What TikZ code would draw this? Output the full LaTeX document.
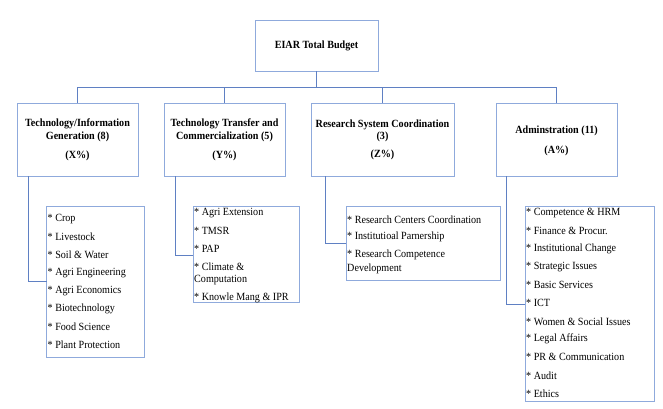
\documentclass[tikz,border=0pt]{standalone}
\usepackage{fontspec}
\setmainfont[FakeStretch=0.92]{Liberation Serif}
\definecolor{boxc}{RGB}{143,170,220}
\definecolor{linec}{RGB}{95,128,195}
\tikzset{
  head/.style={draw=boxc, line width=0.9pt, font=\fontsize{11}{12.7}\selectfont\bfseries, align=center, inner sep=0pt},
  htext/.style={font=\fontsize{11}{12.7}\selectfont\bfseries, align=center, inner sep=0pt},
  listbox/.style={draw=boxc, line width=0.9pt},
  item/.style={anchor=west, font=\fontsize{11}{13}\selectfont, inner sep=0pt},
  conn/.style={draw=linec, line width=0.9pt}
}
\begin{document}
\begin{tikzpicture}[x=1pt,y=-1pt]
\useasboundingbox (0,0) rectangle (663,409);
% top
\node[head, minimum width=123pt, minimum height=51pt] (top) at (316.5,45.5) {EIAR Total Budget};
% level 1 boxes
\node[head, minimum width=121pt, minimum height=73pt] (b1) at (77.5,139.5) {};
\node[head, minimum width=121pt, minimum height=73pt] (b2) at (224.5,139.5) {};
\node[head, minimum width=143pt, minimum height=73pt] (b3) at (382.5,139.5) {};
\node[head, minimum width=121pt, minimum height=73pt] (b4) at (556.5,139.5) {};
\node[htext] (t1) at (77.5,130.5) {Technology/Information\\Generation (8)};
\node[htext] (p1) at (77.5,155.7) {(X\%)};
\node[htext] (t2) at (224.5,130.5) {Technology Transfer and\\Commercialization (5)};
\node[htext] (p2) at (224.5,155.7) {(Y\%)};
\node[htext] (t3) at (382.5,130.8) {Research System Coordination\\(3)};
\node[htext] (p3) at (382.5,155) {(Z\%)};
\node[htext] (t4) at (556.5,131) {Adminstration (11)};
\node[htext] (p4) at (556.5,150.7) {(A\%)};
% connectors top
\coordinate (bar) at (316.5,87);
\draw[conn] (top.south) -- (bar);
\draw[conn] (b1.north) |- (b4.north |- bar) -- (b4.north);
\draw[conn] (b2.north) -- (b2.north |- bar);
\draw[conn] (b3.north) -- (b3.north |- bar);
% list boxes
\draw[listbox] (46.7,206.7) rectangle (144,357);
\coordinate (l1) at (46.7,281.7);
\draw[listbox] (193,206.7) rectangle (299,302.7);
\coordinate (l2) at (193,255);
\draw[listbox] (346,206) rectangle (500,280.7);
\coordinate (l3) at (346,243.5);
\draw[listbox] (525,206) rectangle (654.3,401);
\coordinate (l4) at (525,304.3);
\coordinate (d1) at (28.3,176);
\coordinate (d2) at (175.7,176);
\coordinate (d3) at (325,176);
\coordinate (d4) at (506.7,176);
\draw[conn] (d1) |- (l1);
\draw[conn] (d2) |- (l2);
\draw[conn] (d3) |- (l3);
\draw[conn] (d4) |- (l4);
% items list 1
\node[item] (a1) at (47.5,219) {* Crop};
\node[item] (a2) at (47.5,237) {* Livestock};
\node[item] (a3) at (47.5,255) {* Soil \& Water};
\node[item] (a4) at (47.5,273) {* Agri Engineering};
\node[item] (a5) at (47.5,291) {* Agri Economics};
\node[item] (a6) at (47.5,309) {* Biotechnology};
\node[item] (a7) at (47.5,327) {* Food Science};
\node[item] (a8) at (47.5,345) {* Plant Protection};
% list 2
\node[item] (c1) at (194,212.7) {* Agri Extension};
\node[item] (c2) at (194,230.7) {* TMSR};
\node[item] (c3) at (194,248.5) {* PAP};
\node[item] (c4) at (194,266.3) {* Climate \&};
\node[item] (c5) at (194,280) {Computation};
\node[item] (c6) at (194,297.5) {* Knowle Mang \& IPR};
% list 3
\node[item] (e1) at (347,219.3) {* Research Centers Coordination};
\node[item] (e2) at (347,237) {* Institutioal Parnership};
\node[item] (e3) at (347,255) {* Research Competence};
\node[item] (e4) at (347,268.5) {Development};
% list 4
\node[item] (f1) at (526,213.3) {* Competence \& HRM};
\node[item] (f2) at (526,231.3) {* Finance \& Procur.};
\node[item] (f3) at (526,249.3) {* Institutional Change};
\node[item] (f4) at (526,267.3) {* Strategic Issues};
\node[item] (f5) at (526,285.3) {* Basic Services};
\node[item] (f6) at (526,303.3) {* ICT};
\node[item] (f7) at (526,321.3) {* Women \& Social Issues};
\node[item] (f8) at (526,339.3) {* Legal Affairs};
\node[item] (f9) at (526,357.3) {* PR \& Communication};
\node[item] (f10) at (526,375.3) {* Audit};
\node[item] (f11) at (526,393.3) {* Ethics};
\end{tikzpicture}
\end{document}
